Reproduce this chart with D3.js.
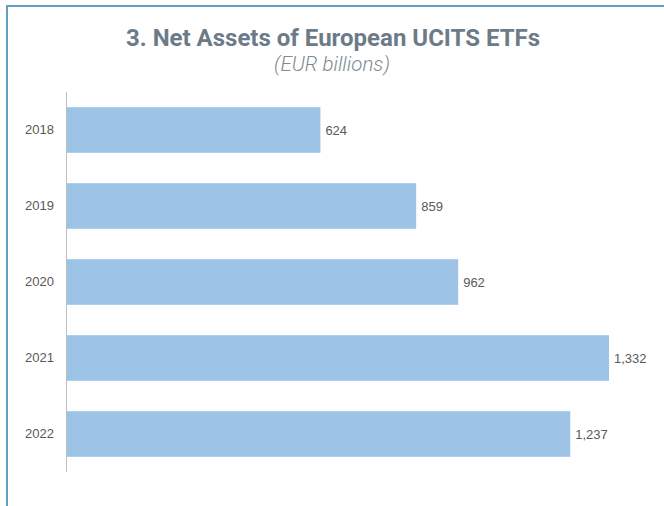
<!DOCTYPE html>
<html>
<head>
<meta charset="UTF-8">
<title>Net Assets of European UCITS ETFs</title>
<script src="https://cdn.jsdelivr.net/npm/d3@7"></script>
<style type="text/css">
body {
 margin: 0;
 background: #fff;
}
.title {
 font: bold 24px Roboto, "Noto Sans", sans-serif;
 fill: #6b7b88;
 text-anchor: middle;
}
.subtitle {
 font: italic 300 20.5px Roboto, "Noto Sans", sans-serif;
 fill: #7f8a93;
 text-anchor: middle;
}
.year text, .value {
 font: 13px "Liberation Sans", Arial, sans-serif;
 fill: #595959;
}
</style>
</head>
<body>

<div class="chart"></div>
<script>
// data
var years  = ["2018", "2019", "2020", "2021", "2022"];
var assets = [624, 859, 962, 1332, 1237];

var width  = 664,
    height = 506;

var svg = d3.select(".chart")
    .append("svg")
    .attr("width", width)
    .attr("height", height);

// frame: top and left rule only
svg.append("path")
    .attr("d", "M7,506V6H664")
    .attr("fill", "none")
    .attr("stroke", "#649ec3")
    .attr("stroke-width", 2);

svg.append("text")
    .attr("class", "title")
    .attr("x", 333)
    .attr("y", 46)
    .text("3. Net Assets of European UCITS ETFs");

svg.append("text")
    .attr("class", "subtitle")
    .attr("x", 332)
    .attr("y", 71)
    .text("(EUR billions)");

var x = d3.scaleLinear()
    .domain([0, 1332])
    .range([66, 609]);

var y = d3.scaleBand()
    .domain(years)
    .range([92, 472])
    .paddingInner(0.4)
    .paddingOuter(0.2);

var rows = svg.selectAll(".bar")
    .data(years)
    .enter()
    .append("g")
    .attr("class", "bar");

rows.append("rect")
    .attr("x", x(0))
    .attr("y", function (d) { return y(d); })
    .attr("width", function (d, i) { return x(assets[i]) - x(0); })
    .attr("height", y.bandwidth())
    .attr("fill", "#9dc3e6");

rows.append("text")
    .attr("class", "value")
    .attr("x", function (d, i) { return x(assets[i]) + 5; })
    .attr("y", function (d) { return y(d) + y.bandwidth() / 2; })
    .attr("dy", "0.35em")
    .text(function (d, i) { return d3.format(",")(assets[i]); });

// category axis
var yAxis = svg.append("g")
    .attr("class", "year")
    .attr("transform", "translate(" + x(0) + ",0)")
    .call(d3.axisLeft(y).tickSize(0).tickPadding(12));

yAxis.select(".domain")
    .attr("stroke", "#bfbfbf")
    .attr("d", "M0.5,92V472");
yAxis.selectAll("text").attr("font-family", null).attr("font-size", null);
</script>
</body>
</html>
